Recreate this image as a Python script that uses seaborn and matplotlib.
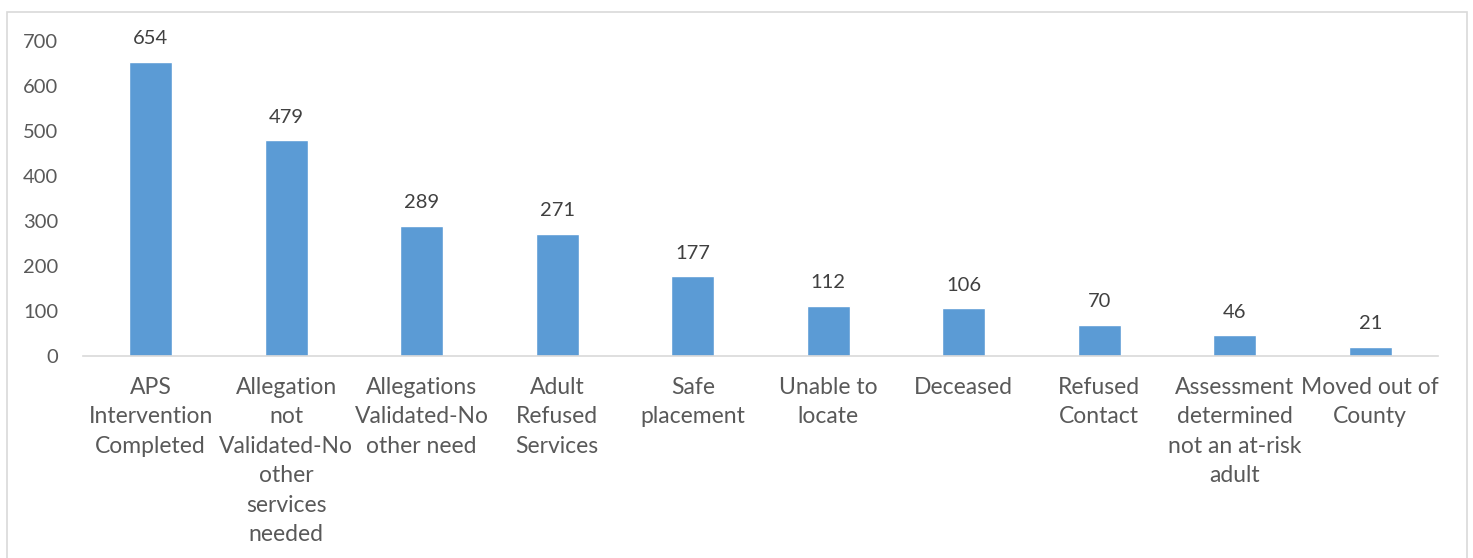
import matplotlib
matplotlib.use("Agg")
import matplotlib.pyplot as plt
import seaborn as sns
import pandas as pd
from matplotlib.patches import Rectangle

# chart data
categories = [
    "APS\nIntervention\nCompleted",
    "Allegation\nnot\nValidated-No\nother\nservices\nneeded",
    "Allegations\nValidated-No\nother need",
    "Adult\nRefused\nServices",
    "Safe\nplacement",
    "Unable to\nlocate",
    "Deceased",
    "Refused\nContact",
    "Assessment\ndetermined\nnot an at-risk\nadult",
    "Moved out of\nCounty",
]
counts = [654, 479, 289, 271, 177, 112, 106, 70, 46, 21]
y_ticks = [0, 100, 200, 300, 400, 500, 600, 700]

df = pd.DataFrame({"category": categories, "count": counts})

sns.set_style("white")
plt.rcParams["font.family"] = ["Lato", "DejaVu Sans"]
text_color = "#595959"

fig = plt.figure(figsize=(14.73, 5.58), dpi=100)
ax = fig.add_axes([83 / 1473, 1 - 356 / 558, (1438 - 83) / 1473, 315 / 558])

sns.barplot(data=df, x="category", y="count", color="#5B9BD5",
            width=0.32, saturation=1, ax=ax)

# value labels above bars
for c in ax.containers:
    ax.bar_label(c, padding=10.5, fontsize=14.5, color="#404040")

ax.set_ylim(0, 700)
ax.set_yticks(y_ticks)
ax.set_xlabel("")
ax.set_ylabel("")
ax.tick_params(axis="both", length=0, colors=text_color)
ax.tick_params(axis="y", pad=18, labelsize=14.5)
ax.tick_params(axis="x", pad=15, labelsize=16.5)
for lbl in ax.get_xticklabels():
    lbl.set_linespacing(1.5)

for s in ["top", "right", "left"]:
    ax.spines[s].set_visible(False)
ax.spines["bottom"].set_color("#d9d9d9")
ax.spines["bottom"].set_linewidth(1.2)

# chart-area border
fig.patches.append(Rectangle((7 / 1473, -0.05), (1467 - 7) / 1473,
                             1.05 - 12 / 558, transform=fig.transFigure,
                             fill=False, edgecolor="#d9d9d9", linewidth=1.2))

fig.savefig("out.png", dpi=100)
